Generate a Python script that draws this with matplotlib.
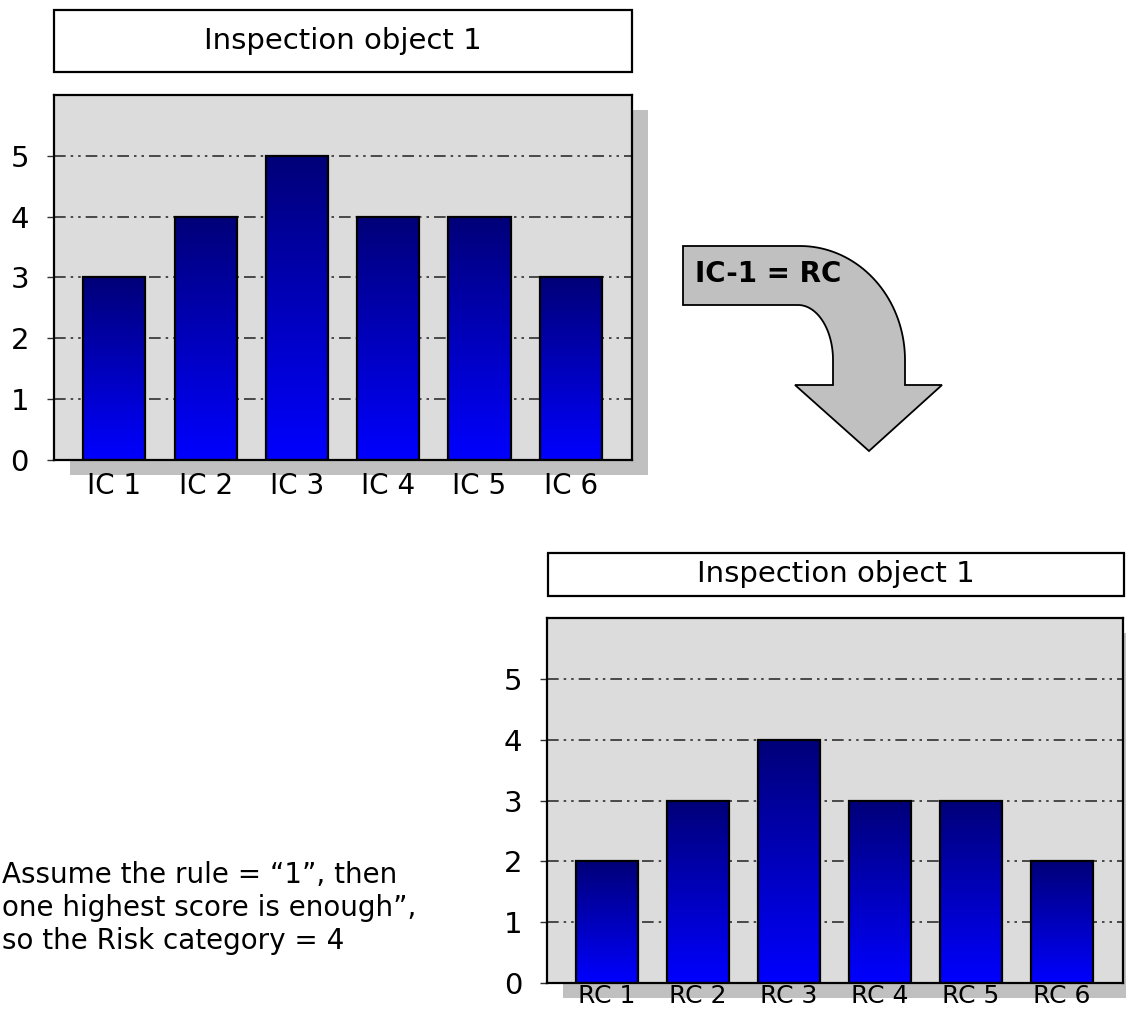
import numpy as np
import matplotlib
matplotlib.use("Agg")
import matplotlib.pyplot as plt
from matplotlib.colors import LinearSegmentedColormap
from matplotlib.patches import Rectangle, PathPatch
from matplotlib.path import Path

# data
ic_labels = ["IC 1", "IC 2", "IC 3", "IC 4", "IC 5", "IC 6"]
ic_scores = [3, 4, 5, 4, 4, 3]
rc_labels = ["RC 1", "RC 2", "RC 3", "RC 4", "RC 5", "RC 6"]
rc_scores = [2, 3, 4, 3, 3, 2]
y_ticks = [0, 1, 2, 3, 4, 5]
chart_title = "Inspection object 1"
arrow_text = "IC-1 = RC"
note_lines = ["Assume the rule = \u201c1\u201d, then",
              "one highest score is enough\u201d,",
              "so the Risk category = 4"]

plt.rcParams["font.family"] = ["DejaVu Sans"]

W, H = 1126, 1014
fig = plt.figure(figsize=(W / 100, H / 100), dpi=100)


def fx(x):
    return x / W


def fy(y):
    return 1 - y / H


blues = LinearSegmentedColormap.from_list("blues", ["#0000ff", "#000078"])
grid_style = (0, (7, 3, 1.5, 3, 1.5, 3))


def draw_chart(box, plot, labels, scores, xpad, xsize):
    # title box
    bl, bt, br, bb = box
    fig.patches.append(Rectangle((fx(bl), fy(bb)), (br - bl) / W, (bb - bt) / H,
                                 transform=fig.transFigure, facecolor="white",
                                 edgecolor="black", lw=1.6, zorder=1))
    fig.text(fx((bl + br) / 2), fy((bt + bb) / 2), chart_title, ha="center", va="center",
             fontsize=21, zorder=2)

    left, top, right, bottom = plot
    # drop shadow behind the plot area
    fig.patches.append(Rectangle((fx(left + 16), fy(bottom + 15)), (right - left) / W,
                                 (bottom - top) / H, transform=fig.transFigure,
                                 facecolor="#c0c0c0", edgecolor="none", zorder=-1))
    ax = fig.add_axes([fx(left), fy(bottom), (right - left) / W, (bottom - top) / H])
    ax.set_facecolor("#dcdcdc")
    x = np.arange(len(scores))

    for yv in y_ticks[1:]:
        ax.axhline(yv, color="#303030", lw=1.2, ls=grid_style, zorder=1)

    gradient = np.linspace(0, 1, 256).reshape(-1, 1)
    for xi, s in zip(x, scores):
        ax.imshow(gradient, extent=[xi - 0.34, xi + 0.34, 0, s], origin="lower",
                  aspect="auto", cmap=blues, zorder=2)
    ax.bar(x, scores, width=0.68, facecolor="none", edgecolor="black", lw=1.6, zorder=3)

    ax.set_xlim(-0.66, len(scores) - 0.33)
    ax.set_ylim(0, 6)
    ax.set_xticks(x)
    ax.set_xticklabels(labels)
    ax.set_yticks(y_ticks)
    ax.tick_params(axis="x", length=0, pad=xpad, labelsize=xsize)
    ax.tick_params(axis="y", length=5, width=1, color="#303030", pad=13, labelsize=21)
    for sp in ax.spines.values():
        sp.set_linewidth(1.6)
        sp.set_color("black")
    return ax


draw_chart((54, 10.5, 632, 72), (54, 95, 632, 460), ic_labels, ic_scores, 9, 20)
draw_chart((548, 553, 1124, 596), (547, 618, 1123, 983), rc_labels, rc_scores, 1, 18)

# curved arrow between the two charts
t = np.linspace(np.pi / 2, 0, 40)
outer = np.column_stack([800 + 105 * np.cos(t), 360 - 114 * np.sin(t)])
inner = np.column_stack([798 + 35 * np.cos(t[::-1]), 360 - 55 * np.sin(t[::-1])])
pts = np.vstack([[[683, 246]], outer, [[905, 385], [942, 385], [869, 451], [795, 385],
                                        [833, 385]], inner, [[683, 305], [683, 246]]])
pts_fig = np.column_stack([fx(pts[:, 0]), fy(pts[:, 1])])
fig.patches.append(PathPatch(Path(pts_fig, closed=True), transform=fig.transFigure,
                             facecolor="#c0c0c0", edgecolor="black", lw=1.3))
fig.text(fx(695), fy(274), arrow_text, ha="left", va="center", fontsize=20,
         fontweight="bold")

# note on the left
for i, line in enumerate(note_lines):
    fig.text(fx(2), fy(875 + 33 * i), line, ha="left", va="center", fontsize=20)

fig.savefig("out.png", dpi=100)
